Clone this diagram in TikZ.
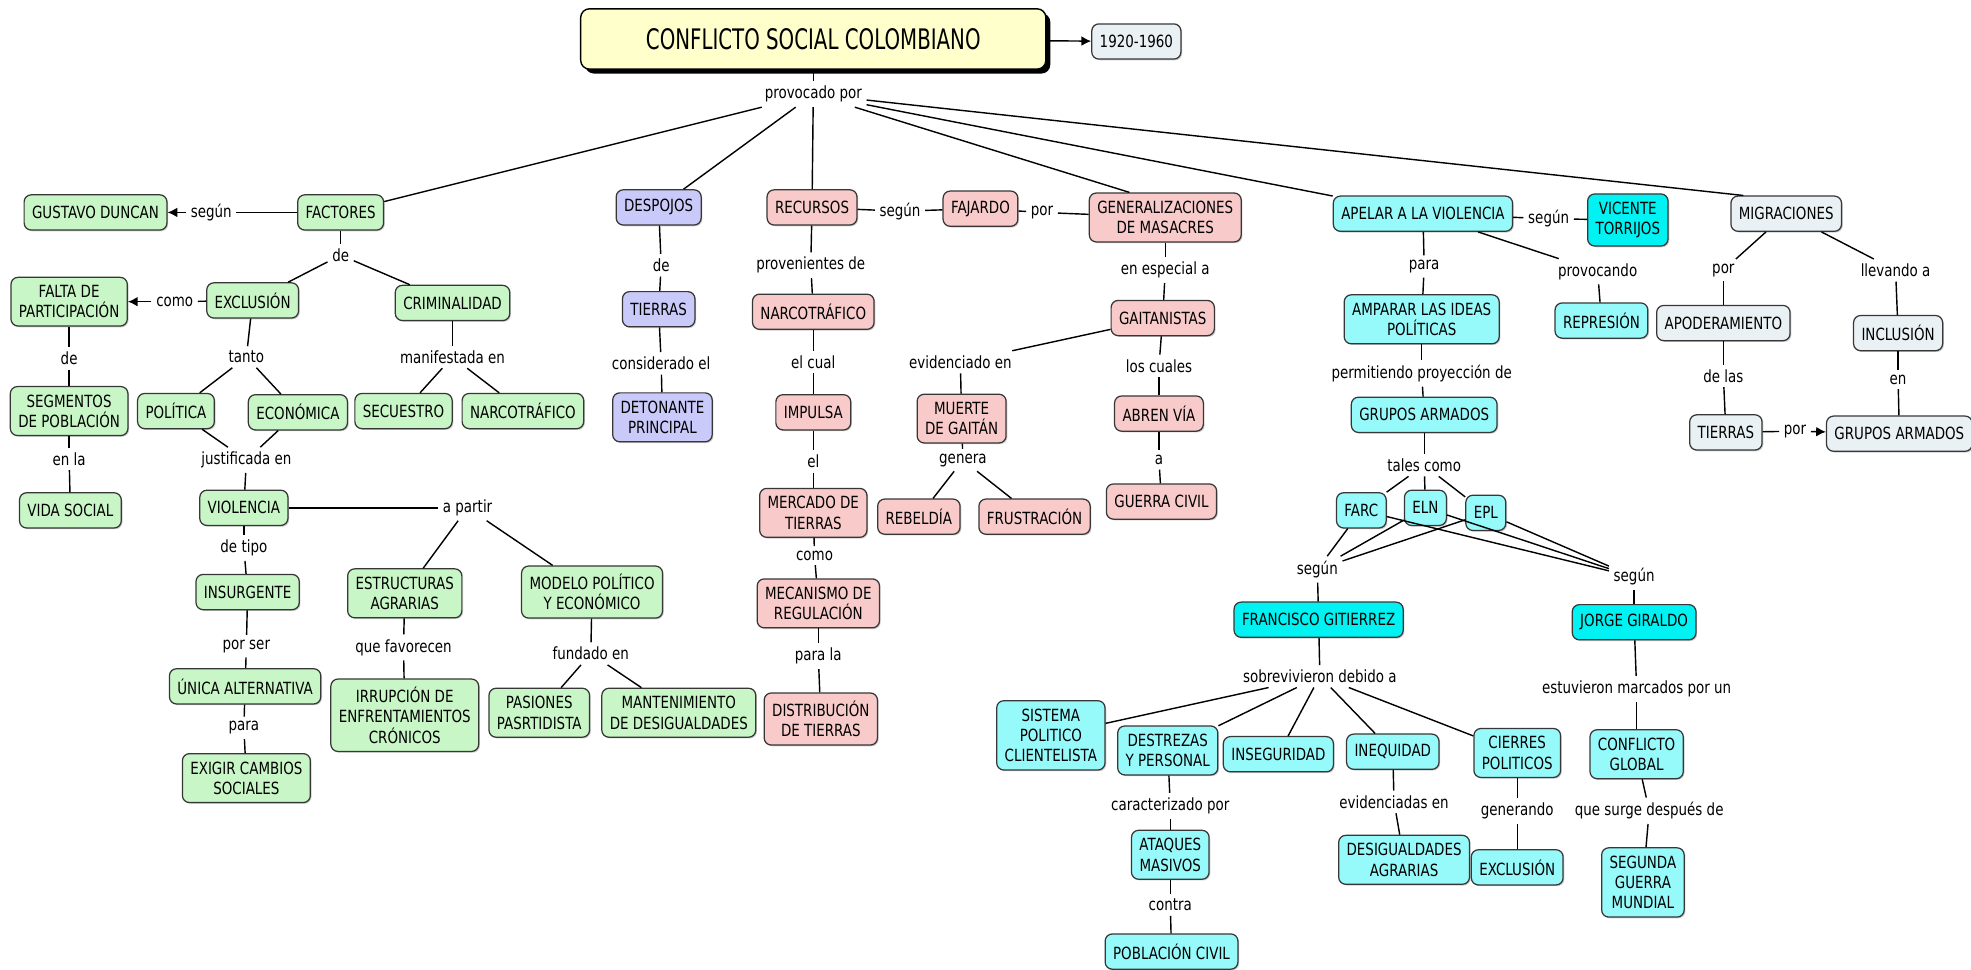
\documentclass[tikz,border=0pt]{standalone}
\usepackage{fontspec}
\setmainfont{DejaVu Sans}[FakeStretch=0.8]
\newfontfamily\titulofont{DejaVu Sans}[FakeStretch=0.7]
\usetikzlibrary{arrows.meta,positioning,shadows}

\definecolor{verde}{RGB}{200,246,198}
\definecolor{lila}{RGB}{202,202,250}
\definecolor{rosa}{RGB}{248,202,202}
\definecolor{celeste}{RGB}{150,250,250}
\definecolor{aqua}{RGB}{0,242,242}
\definecolor{gris}{RGB}{234,241,244}
\definecolor{crema}{RGB}{255,255,204}
\definecolor{borde}{RGB}{55,55,55}

\tikzset{
  concept/.style={rectangle, rounded corners=4pt, draw=borde, line width=0.7pt,
    align=center, inner xsep=4.5pt, inner ysep=4.5pt, minimum height=0.7cm,
    font=\fontsize{9.5}{11.5}\selectfont,
    drop shadow={shadow xshift=0.7pt, shadow yshift=-0.7pt, opacity=0.4}},
  linking/.style={inner sep=2.5pt, font=\fontsize{9.5}{11.5}\selectfont},
  titlebox/.style={rectangle, rounded corners=5pt, draw=black, line width=0.8pt,
    fill=crema, minimum width=9.25cm, minimum height=1.2cm,
    font=\titulofont\fontsize{16}{19}\selectfont,
    drop shadow={shadow xshift=2.5pt, shadow yshift=-2.5pt, fill=black, opacity=1}},
  flecha/.style={-{Latex[length=5.5pt,width=5.5pt]}}
}

\begin{document}
\begin{tikzpicture}[x=0.025cm, y=-0.025cm]
    \path[use as bounding box, fill=white] (0,0) rectangle (1568,771);

    %Title
    \node[titlebox] (titulo) at (647,31) {CONFLICTO SOCIAL COLOMBIANO};
    \node[concept, fill=gris] (epoca) at (904,33) {1920-1960};
    \path (titulo) edge[draw, line width=0.8pt, flecha] (epoca);

    %Factores branch
     \begin{scope}[every node/.style={concept, fill=verde}]
       \node (duncan) at (76,169) {GUSTAVO DUNCAN};
       \node (factores) at (271,169) {FACTORES};
       \node (falta) at (55,240) {FALTA DE\\PARTICIPACIÓN};
       \node (exclusion) at (201,239) {EXCLUSIÓN};
       \node (criminalidad) at (360,241) {CRIMINALIDAD};
       \node (segmentos) at (55,327) {SEGMENTOS\\DE POBLACIÓN};
       \node (politica) at (140,327) {POLÍTICA};
       \node (economica) at (237,328) {ECONÓMICA};
       \node (secuestro) at (321,327) {SECUESTRO};
       \node (narcoA) at (416,327) {NARCOTRÁFICO};
       \node (vidasocial) at (56,406) {VIDA SOCIAL};
       \node (violencia) at (194,404) {VIOLENCIA};
       \node (insurgente) at (197,471) {INSURGENTE};
       \node (estructuras) at (322,472) {ESTRUCTURAS\\AGRARIAS};
       \node (modelo) at (471,471) {MODELO POLÍTICO\\Y ECONÓMICO};
       \node (unica) at (195,546) {ÚNICA ALTERNATIVA};
       \node (irrupcion) at (322,569) {IRRUPCIÓN DE\\ENFRENTAMIENTOS\\CRÓNICOS};
       \node (pasiones) at (429,567) {PASIONES\\PASRTIDISTA};
       \node (mantenimiento) at (540,567) {MANTENIMIENTO\\DE DESIGUALDADES};
       \node (exigir) at (196,619) {EXIGIR CAMBIOS\\SOCIALES};
    \end{scope}

    %Despojos branch
     \begin{scope}[every node/.style={concept, fill=lila}]
       \node (despojos) at (524,165) {DESPOJOS};
       \node (tierrasA) at (524,246) {TIERRAS};
       \node (detonante) at (527,332) {DETONANTE\\PRINCIPAL};
    \end{scope}

    %Recursos branch
     \begin{scope}[every node/.style={concept, fill=rosa}]
       \node (recursos) at (646,165) {RECURSOS};
       \node (fajardo) at (780,166) {FAJARDO};
       \node (generalizaciones) at (927,173) {GENERALIZACIONES\\DE MASACRES};
       \node (narcoB) at (647,248) {NARCOTRÁFICO};
       \node (impulsa) at (647,328) {IMPULSA};
       \node (mercado) at (647,408) {MERCADO DE\\TIERRAS};
       \node (mecanismo) at (651,480) {MECANISMO DE\\REGULACIÓN};
       \node (distribucion) at (653,572) {DISTRIBUCIÓN\\DE TIERRAS};
       \node (gaitanistas) at (925,253) {GAITANISTAS};
       \node (muerte) at (765,333) {MUERTE\\DE GAITÁN};
       \node (abren) at (922,329) {ABREN VÍA};
       \node (rebeldia) at (731,411) {REBELDÍA};
       \node (frustracion) at (823,411) {FRUSTRACIÓN};
       \node (guerra) at (924,399) {GUERRA CIVIL};
    \end{scope}

    %Apelar branch
     \begin{scope}[every node/.style={concept, fill=celeste}]
       \node (apelar) at (1132,170) {APELAR A LA VIOLENCIA};
       \node[fill=aqua] (vicente) at (1295,175) {VICENTE\\TORRIJOS};
       \node (amparar) at (1131,254) {AMPARAR LAS IDEAS\\POLÍTICAS};
       \node (represion) at (1274,255) {REPRESIÓN};
       \node (gruposA) at (1133,330) {GRUPOS ARMADOS};
       \node (farc) at (1083,406) {FARC};
       \node (eln) at (1134,404) {ELN};
       \node (epl) at (1182,408) {EPL};
       \node[fill=aqua] (francisco) at (1049,493) {FRANCISCO GITIERREZ};
       \node[fill=aqua] (jorge) at (1300,495) {JORGE GIRALDO};
       \node (sistema) at (836,585) {SISTEMA\\POLITICO\\CLIENTELISTA};
       \node (destrezas) at (929,597) {DESTREZAS\\Y PERSONAL};
       \node (inseguridad) at (1017,600) {INSEGURIDAD};
       \node (inequidad) at (1108,598) {INEQUIDAD};
       \node (cierres) at (1207,599) {CIERRES\\POLITICOS};
       \node (conflicto) at (1302,600) {CONFLICTO\\GLOBAL};
       \node (ataques) at (931,680) {ATAQUES\\MASIVOS};
       \node (desigualdades) at (1117,684) {DESIGUALDADES\\AGRARIAS};
       \node (exclusionB) at (1207,690) {EXCLUSIÓN};
       \node (segunda) at (1307,702) {SEGUNDA\\GUERRA\\MUNDIAL};
       \node (poblacion) at (932,757) {POBLACIÓN CIVIL};
    \end{scope}

    %Migraciones branch
     \begin{scope}[every node/.style={concept, fill=gris}]
       \node (migraciones) at (1421,170) {MIGRACIONES};
       \node (apoderamiento) at (1371,257) {APODERAMIENTO};
       \node (inclusion) at (1510,265) {INCLUSIÓN};
       \node (tierrasB) at (1373,344) {TIERRAS};
       \node (gruposB) at (1511,345) {GRUPOS ARMADOS};
    \end{scope}

    %Linking phrases and connectors
    \begin{scope}[every edge/.style={draw, line width=0.8pt},
       every node/.style={linking}]
      \node (lprov) at (647,75) {provocado por};
      \path (titulo) edge (lprov);
      \path (lprov) edge (factores);
      \path (lprov) edge (despojos);
      \path (lprov) edge (recursos);
      \path (lprov) edge (generalizaciones.145);
      \path (lprov) edge (apelar);
      \path (lprov) edge (migraciones.157);

      % factores
      \node (lsegunA) at (168,169) {según};
      \node (lde1) at (271,203) {de};
      \node (lcomo) at (139,240) {como};
      \node (lde2) at (55,285) {de};
      \node (lenla) at (55,365) {en la};
      \node (ltanto) at (196,284) {tanto};
      \node (lmanif) at (360,284) {manifestada en};
      \node (ljust) at (196,366) {justificada en};
      \node (lapartir) at (372,404) {a partir};
      \node (ldetipo) at (194,436) {de tipo};
      \node (lporser) at (196,514) {por ser};
      \node (lpara1) at (194,579) {para};
      \node (lfavorecen) at (321,515) {que favorecen};
      \node (lfundado) at (470,520) {fundado en};
      \path (factores) edge (lsegunA);
      \path (lsegunA) edge[flecha] (duncan);
      \path (factores) edge (lde1);
      \path (lde1) edge (exclusion);
      \path (lde1) edge (criminalidad);
      \path (exclusion) edge (lcomo);
      \path (lcomo) edge[flecha] (falta);
      \path (falta) edge (lde2);
      \path (lde2) edge (segmentos);
      \path (segmentos) edge (lenla);
      \path (lenla) edge (vidasocial);
      \path (exclusion) edge (ltanto);
      \path (ltanto) edge (politica);
      \path (ltanto) edge (economica);
      \path (criminalidad) edge (lmanif);
      \path (lmanif) edge (secuestro);
      \path (lmanif) edge (narcoA);
      \path (politica) edge (ljust);
      \path (economica) edge (ljust);
      \path (ljust) edge (violencia);
      \path (violencia) edge (lapartir);
      \path (lapartir) edge (estructuras);
      \path (lapartir) edge (modelo);
      \path (violencia) edge (ldetipo);
      \path (ldetipo) edge (insurgente);
      \path (insurgente) edge (lporser);
      \path (lporser) edge (unica);
      \path (unica) edge (lpara1);
      \path (lpara1) edge (exigir);
      \path (estructuras) edge (lfavorecen);
      \path (lfavorecen) edge (irrupcion);
      \path (modelo) edge (lfundado);
      \path (lfundado) edge (pasiones);
      \path (lfundado) edge (mantenimiento);

      % despojos
      \node (lde3) at (526,211) {de};
      \node (lconsiderado) at (526,289) {considerado el};
      \path (despojos) edge (lde3);
      \path (lde3) edge (tierrasA);
      \path (tierrasA) edge (lconsiderado);
      \path (lconsiderado) edge (detonante);

      % recursos
      \node (lsegunB) at (716,168) {según};
      \node (lpor1) at (829,169) {por};
      \node (lprovenientes) at (645,211) {provenientes de};
      \node (lelcual) at (647,288) {el cual};
      \node (lel) at (647,367) {el};
      \node (lcomo2) at (648,442) {como};
      \node (lparala) at (651,522) {para la};
      \node (lespecial) at (927,215) {en especial a};
      \node (levidenciado) at (764,288) {evidenciado en};
      \node (loscuales) at (922,291) {los cuales};
      \node (lgenera) at (766,366) {genera};
      \node (la) at (922,366) {a};
      \path (recursos) edge (lsegunB);
      \path (lsegunB) edge (fajardo);
      \path (fajardo) edge (lpor1);
      \path (lpor1) edge (generalizaciones);
      \path (recursos) edge (lprovenientes);
      \path (lprovenientes) edge (narcoB);
      \path (narcoB) edge (lelcual);
      \path (lelcual) edge (impulsa);
      \path (impulsa) edge (lel);
      \path (lel) edge (mercado);
      \path (mercado) edge (lcomo2);
      \path (lcomo2) edge (mecanismo);
      \path (mecanismo) edge (lparala);
      \path (lparala) edge (distribucion);
      \path (generalizaciones) edge (lespecial);
      \path (lespecial) edge (gaitanistas);
      \path (gaitanistas) edge (levidenciado);
      \path (levidenciado) edge (muerte);
      \path (muerte) edge (lgenera);
      \path (lgenera) edge (rebeldia);
      \path (lgenera) edge (frustracion);
      \path (gaitanistas) edge (loscuales);
      \path (loscuales) edge (abren);
      \path (abren) edge (la);
      \path (la) edge (guerra);

      % apelar
      \node (lsegunC) at (1232,174) {según};
      \node (lpara2) at (1133,212) {para};
      \node (lprovocando) at (1271,216) {provocando};
      \node (lpermitiendo) at (1131,297) {permitiendo proyección de};
      \node (ltales) at (1133,370) {tales como};
      \node (lsegunD) at (1048,453) {según};
      \node (lsegunE) at (1300,459) {según};
      \node (lsobrevivieron) at (1050,538) {sobrevivieron debido a};
      \node (lestuvieron) at (1302,548) {estuvieron marcados por un};
      \node (lcaracterizado) at (931,641) {caracterizado por};
      \node (levidenciadas) at (1109,638) {evidenciadas en};
      \node (lgenerando) at (1207,645) {generando};
      \node (lsurge) at (1312,645) {que surge después de};
      \node (lcontra) at (931,720) {contra};
      \path (apelar) edge (lsegunC);
      \path (lsegunC) edge (vicente);
      \path (apelar) edge (lpara2);
      \path (lpara2) edge (amparar);
      \path (apelar) edge (lprovocando);
      \path (lprovocando) edge (represion);
      \path (amparar) edge (lpermitiendo);
      \path (lpermitiendo) edge (gruposA);
      \path (gruposA) edge (ltales);
      \path (ltales) edge (farc);
      \path (ltales) edge (eln);
      \path (ltales) edge (epl);
      \path (farc) edge (lsegunD);
      \path (eln) edge (lsegunD);
      \path (epl) edge (lsegunD);
      \path (farc) edge (lsegunE);
      \path (eln) edge (lsegunE);
      \path (epl) edge (lsegunE);
      \path (lsegunD) edge (francisco);
      \path (lsegunE) edge (jorge);
      \path (francisco) edge (lsobrevivieron);
      \path (lsobrevivieron) edge (sistema);
      \path (lsobrevivieron) edge (destrezas);
      \path (lsobrevivieron) edge (inseguridad);
      \path (lsobrevivieron) edge (inequidad);
      \path (lsobrevivieron) edge (cierres);
      \path (jorge) edge (lestuvieron);
      \path (lestuvieron) edge (conflicto);
      \path (destrezas) edge (lcaracterizado);
      \path (lcaracterizado) edge (ataques);
      \path (ataques) edge (lcontra);
      \path (lcontra) edge (poblacion);
      \path (inequidad) edge (levidenciadas);
      \path (levidenciadas) edge (desigualdades);
      \path (cierres) edge (lgenerando);
      \path (lgenerando) edge (exclusionB);
      \path (conflicto) edge (lsurge);
      \path (lsurge) edge (segunda);

      % migraciones
      \node (lpor2) at (1371,215) {por};
      \node (lllevando) at (1508,215) {llevando a};
      \node (ldelas) at (1371,299) {de las};
      \node (len) at (1510,302) {en};
      \node (lpor3) at (1428,343) {por};
      \path (migraciones) edge (lpor2);
      \path (lpor2) edge (apoderamiento);
      \path (migraciones) edge (lllevando);
      \path (lllevando) edge (inclusion);
      \path (apoderamiento) edge (ldelas);
      \path (ldelas) edge (tierrasB);
      \path (inclusion) edge (len);
      \path (len) edge (gruposB);
      \path (tierrasB) edge (lpor3);
      \path (lpor3) edge[flecha] (gruposB);
    \end{scope}
  \end{tikzpicture}
\end{document}
